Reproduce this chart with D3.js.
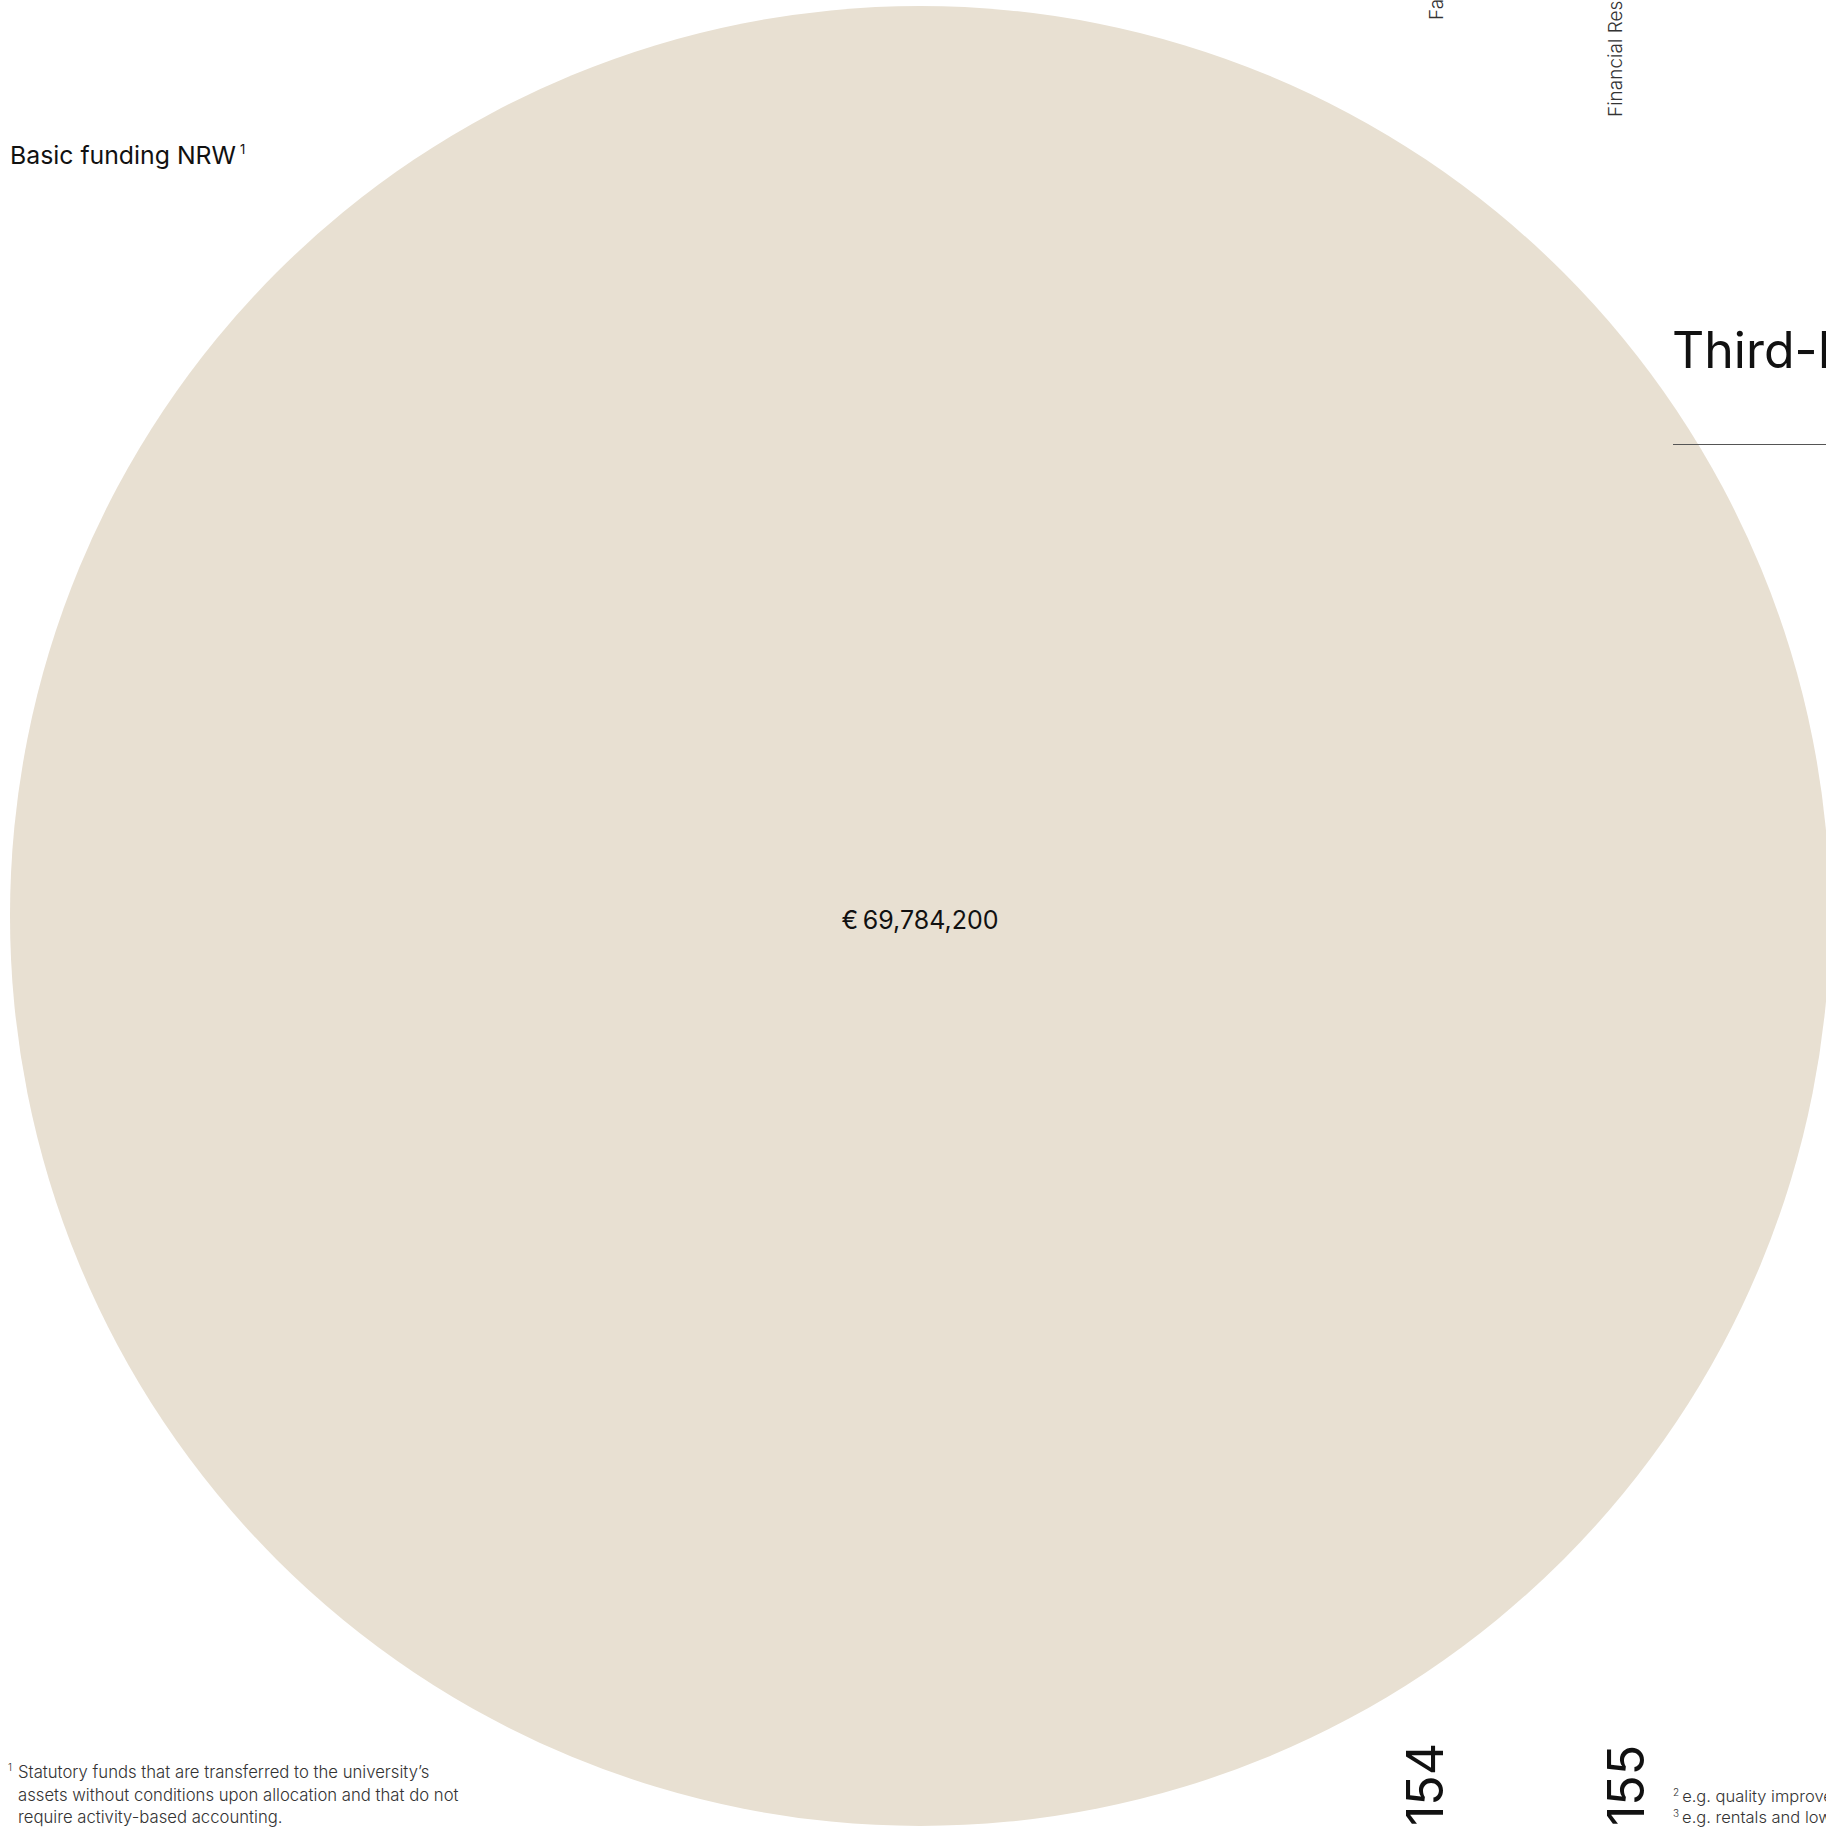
<!DOCTYPE html>
<html>
<head>
<meta charset="utf-8">
<script src="https://cdn.jsdelivr.net/npm/d3@7"></script>
<style>
  html, body { margin: 0; padding: 0; background: #ffffff; }
  svg { display: block; }
  text { font-family: Inter, "Liberation Sans", Arial, sans-serif; }
</style>
</head>
<body>
<div id="chart"></div>
<script>
// Funding sources shown as circles, area proportional to the amount
const categories = ["Basic funding NRW"];
const footnoteMarks = ["1"];
const amounts = [69784200];

// Running heads and page numbers of the spread
const runningHeads = ["Facts and Figures", "Financial Resources"];
const pageNumbers = ["154", "155"];
const sectionTitle = "Third-Party Funding";

// Footnotes
const footnoteLeft = [
  "Statutory funds that are transferred to the university’s",
  "assets without conditions upon allocation and that do not",
  "require activity-based accounting."
];
const footnoteRight = [
  { mark: "2", text: "e.g. quality improvement funds" },
  { mark: "3", text: "e.g. rentals and lowered costs" }
];

const W = 1826, H = 1828;
const svg = d3.select("#chart").append("svg")
  .attr("width", W).attr("height", H);

// Radius scale: circle area proportional to the amount
const r = d3.scaleSqrt().domain([0, d3.max(amounts)]).range([0, 910]);
const fmt = v => "€\u2009" + d3.format(",")(v);

const cx = 920, cy = 916;

const bubbles = svg.append("g").selectAll("g")
  .data(amounts.map((v, i) => ({ v, name: categories[i], mark: footnoteMarks[i] })))
  .join("g")
  .attr("transform", `translate(${cx},${cy})`);

bubbles.append("circle")
  .attr("r", d => r(d.v))
  .attr("fill", "#e8e0d2");

bubbles.append("text")
  .attr("text-anchor", "middle")
  .attr("y", 13)
  .attr("font-size", 25)
  .attr("fill", "#111")
  .text(d => fmt(d.v));

// Category label, top left
const lab = svg.append("text")
  .attr("x", 10).attr("y", 164)
  .attr("font-size", 24.8)
  .attr("fill", "#111");
lab.append("tspan").text(categories[0]);
lab.append("tspan").attr("font-size", 13).attr("dx", 4).attr("dy", -10).text(footnoteMarks[0]);

// Running heads, vertical
const headPos = [{ x: 1443, y: 20 }, { x: 1622, y: 117 }];
svg.append("g").selectAll("text")
  .data(runningHeads)
  .join("text")
  .attr("transform", (d, i) => `translate(${headPos[i].x},${headPos[i].y}) rotate(-90)`)
  .attr("font-size", 19)
  .attr("font-weight", 300)
  .attr("fill", "#333")
  .text(d => d);

// Page numbers, vertical
const pagePos = [{ x: 1443, y: 1826 }, { x: 1644, y: 1826 }];
svg.append("g").selectAll("text")
  .data(pageNumbers)
  .join("text")
  .attr("transform", (d, i) => `translate(${pagePos[i].x},${pagePos[i].y}) rotate(-90)`)
  .attr("font-size", 50)
  .attr("fill", "#111")
  .text(d => d);

// Section title on the facing page with its rule
svg.append("text")
  .attr("x", 1672).attr("y", 368)
  .attr("font-size", 50)
  .attr("fill", "#111")
  .text(sectionTitle);
svg.append("line")
  .attr("x1", 1673).attr("x2", W)
  .attr("y1", 444.5).attr("y2", 444.5)
  .attr("stroke", "#555").attr("stroke-width", 1.2);

// Footnote, left page
const fl = svg.append("g").attr("fill", "#333").attr("font-size", 16.7).attr("font-weight", 300);
fl.append("text").attr("x", 8).attr("y", 1771).attr("font-size", 10).text("1");
fl.selectAll("text.line")
  .data(footnoteLeft)
  .join("text")
  .attr("class", "line")
  .attr("x", 18)
  .attr("y", (d, i) => 1778 + i * 22.5)
  .text(d => d);

// Footnotes, right page
const fr = svg.append("g").attr("fill", "#333").attr("font-size", 16.5).attr("font-weight", 300);
footnoteRight.forEach((f, i) => {
  const t = fr.append("text").attr("x", 1673).attr("y", 1802 + i * 21);
  t.append("tspan").attr("font-size", 10).attr("dy", -6).text(f.mark);
  t.append("tspan").attr("dx", 3).attr("dy", 6).text(f.text);
});
</script>
</body>
</html>
